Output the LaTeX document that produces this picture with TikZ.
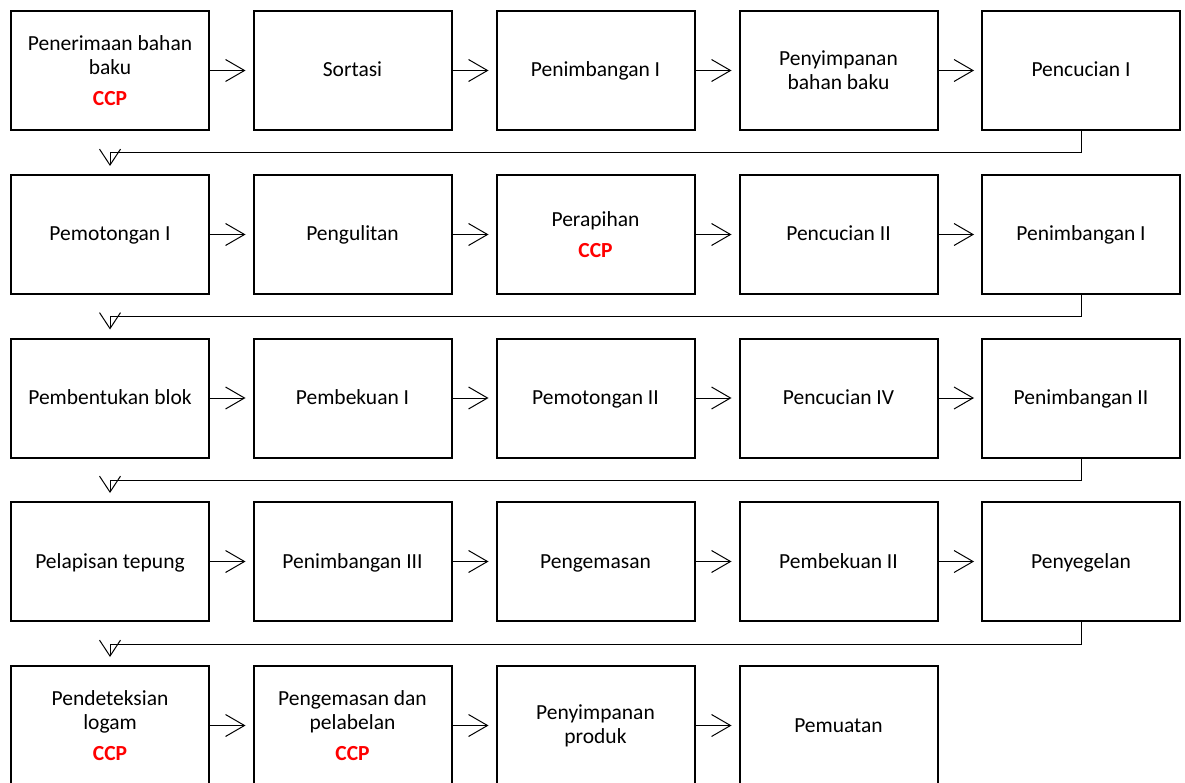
\documentclass[tikz,border=0pt]{standalone}
\usepackage{fontspec}
\setmainfont{Carlito}
\usetikzlibrary{arrows.meta,calc}
\definecolor{ccpred}{RGB}{255,0,0}
\tikzset{
  x=1pt,y=-1pt,
  stepbox/.style={draw=black,line width=2pt,minimum width=198pt,minimum height=119pt,align=center,inner sep=0pt,
    font=\fontsize{21.5pt}{24pt}\selectfont},
  onebox/.style={stepbox,text height=16.5pt,text depth=3.5pt},
  arr/.style={line width=1pt,-{Straight Barb[length=19pt,width=22pt,line width=1pt]},shorten >=7pt},
  conn/.style={line width=1pt,-{Straight Barb[length=16pt,width=21pt,line width=1pt]},shorten >=8pt},
}
\newcommand{\ccp}{\\[7pt]\textcolor{ccpred}{\bfseries CCP}}
\begin{document}
\begin{tikzpicture}
\useasboundingbox (0,0) rectangle (1185,783);
\fill[white] (0,0) rectangle (1185,783);
% row 1
\node[stepbox] (n11) at (110,70.5) {Penerimaan bahan\\baku\ccp};
\node[onebox] (n12) at (352.5,70.5) {Sortasi};
\node[onebox] (n13) at (595.5,70.5) {Penimbangan I};
\node[stepbox] (n14) at (838.5,70.5) {Penyimpanan\\bahan baku};
\node[onebox] (n15) at (1081,70.5) {Pencucian I};
% row 2
\node[onebox] (n21) at (110,234.5) {Pemotongan I};
\node[onebox] (n22) at (352.5,234.5) {Pengulitan};
\node[stepbox] (n23) at (595.5,234.5) {Perapihan\ccp};
\node[onebox] (n24) at (838.5,234.5) {Pencucian II};
\node[onebox] (n25) at (1081,234.5) {Penimbangan I};
% row 3
\node[onebox] (n31) at (110,398) {Pembentukan blok};
\node[onebox] (n32) at (352.5,398) {Pembekuan I};
\node[onebox] (n33) at (595.5,398) {Pemotongan II};
\node[onebox] (n34) at (838.5,398) {Pencucian IV};
\node[onebox] (n35) at (1081,398) {Penimbangan II};
% row 4
\node[onebox] (n41) at (110,561.5) {Pelapisan tepung};
\node[onebox] (n42) at (352.5,561.5) {Penimbangan III};
\node[onebox] (n43) at (595.5,561.5) {Pengemasan};
\node[onebox] (n44) at (838.5,561.5) {Pembekuan II};
\node[onebox] (n45) at (1081,561.5) {Penyegelan};
% row 5
\node[stepbox] (n51) at (110,725.5) {Pendeteksian\\logam\ccp};
\node[stepbox] (n52) at (352.5,725.5) {Pengemasan dan\\pelabelan\ccp};
\node[stepbox] (n53) at (595.5,725.5) {Penyimpanan\\produk};
\node[onebox] (n54) at (838.5,725.5) {Pemuatan};
% horizontal arrows
\foreach \r in {1,2,3,4}{
  \draw[arr] (n\r1.east) -- (n\r2.west);
  \draw[arr] (n\r2.east) -- (n\r3.west);
  \draw[arr] (n\r3.east) -- (n\r4.west);
  \draw[arr] (n\r4.east) -- (n\r5.west);
}
\draw[arr] (n51.east) -- (n52.west);
\draw[arr] (n52.east) -- (n53.west);
\draw[arr] (n53.east) -- (n54.west);
% row change connectors
\draw[conn] (n15.south) -- ++(0,22) -| (n21.north);
\draw[conn] (n25.south) -- ++(0,22) -| (n31.north);
\draw[conn] (n35.south) -- ++(0,22) -| (n41.north);
\draw[conn] (n45.south) -- ++(0,22) -| (n51.north);
\end{tikzpicture}
\end{document}
